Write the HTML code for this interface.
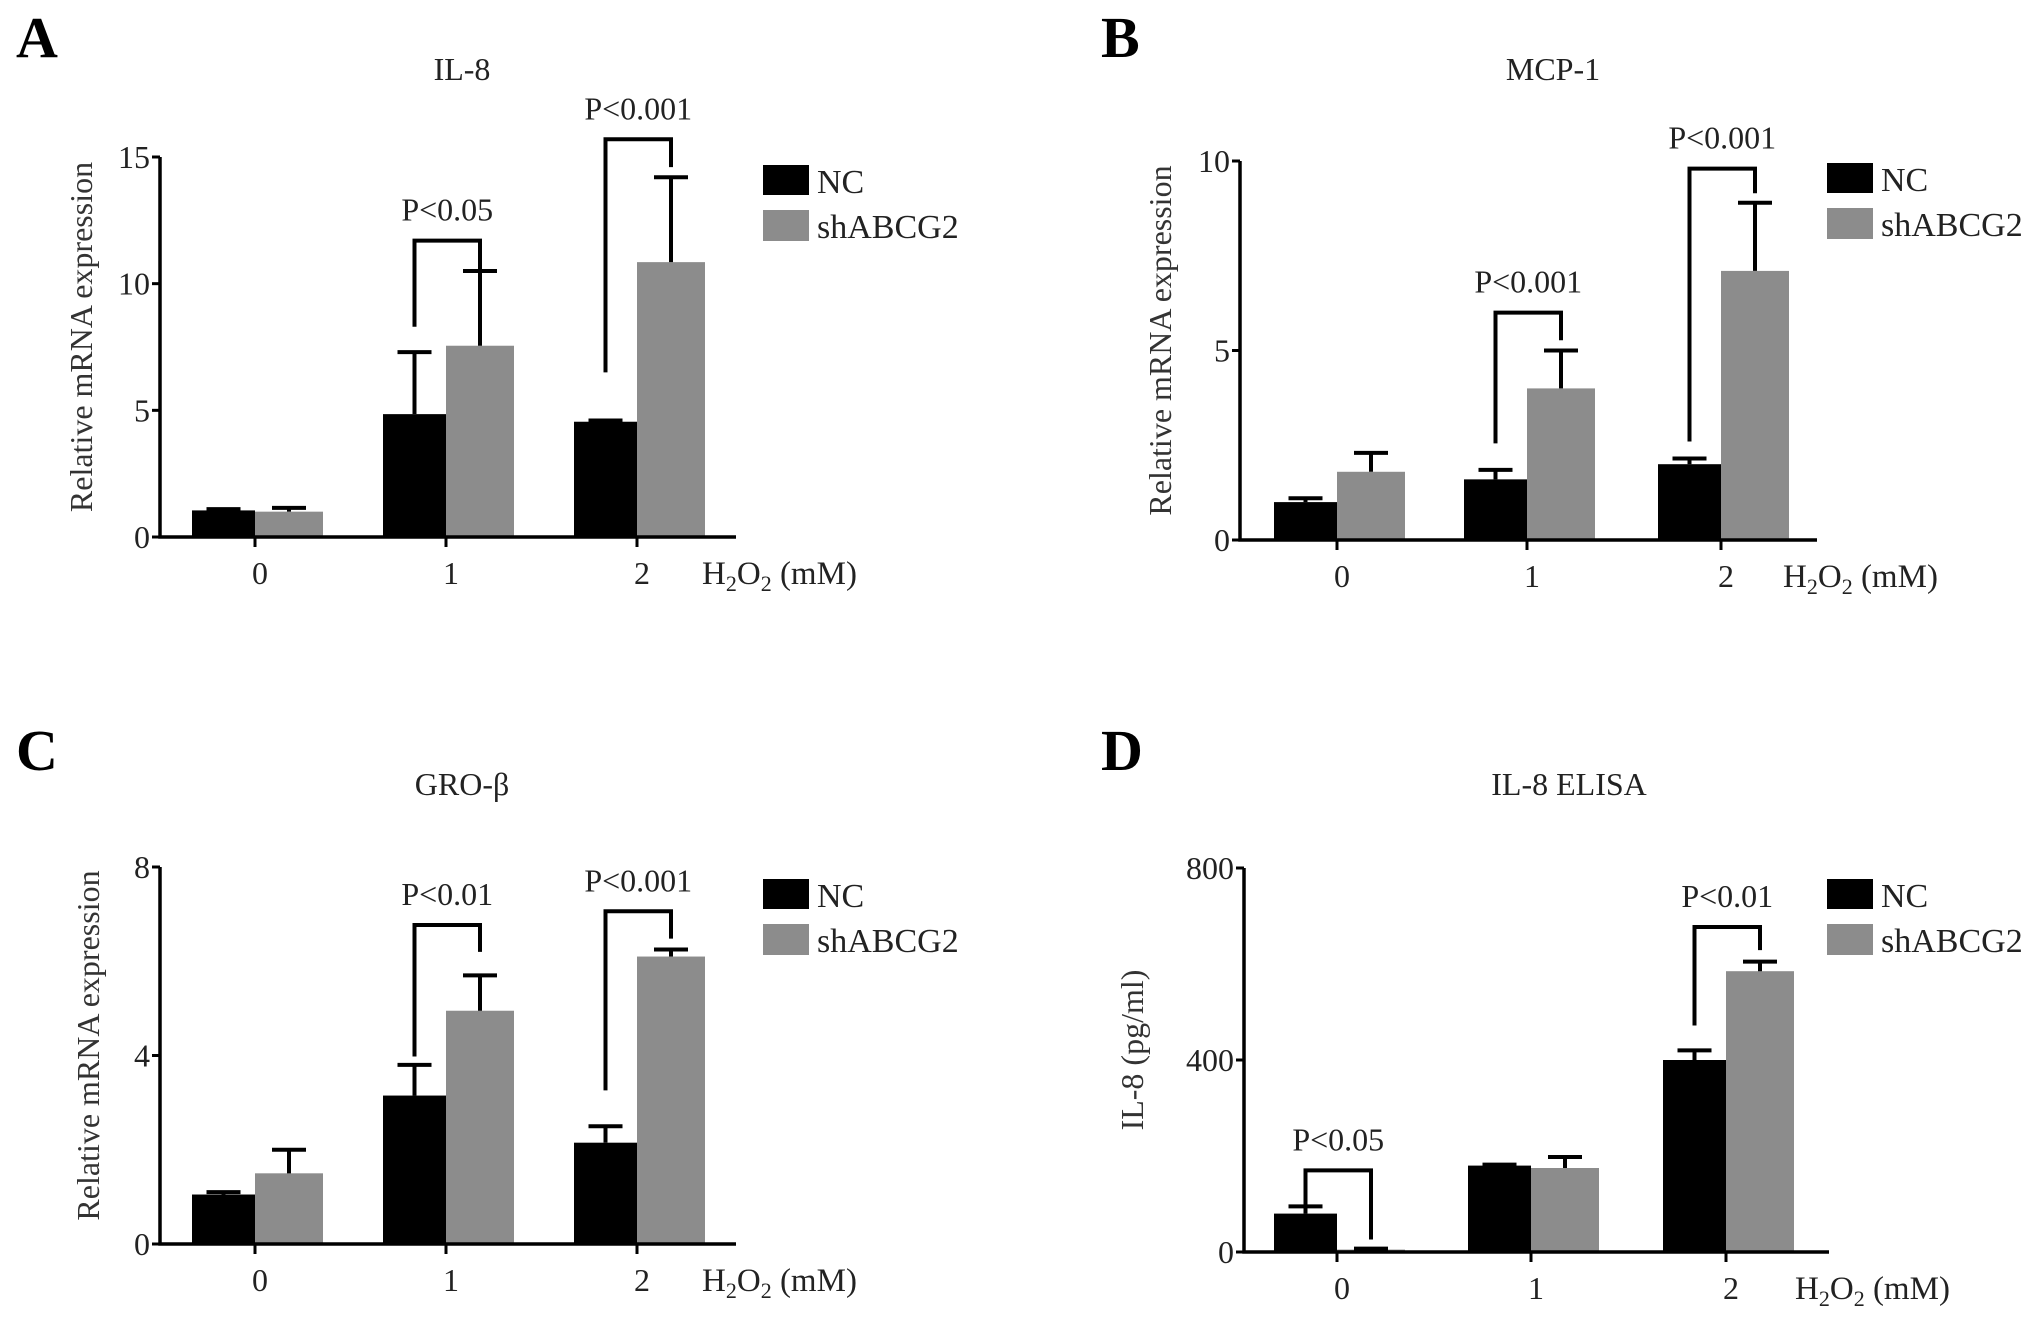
<!DOCTYPE html>
<html><head><meta charset="utf-8"><style>
html,body{margin:0;padding:0;background:#fff;}
svg{display:block;font-family:"Liberation Serif",serif;}
</style></head><body>
<svg id="fig" width="2031" height="1318" viewBox="0 0 2031 1318" xmlns="http://www.w3.org/2000/svg"></svg>
<script>
const categories = ["0","1","2"];
const aNC = [1.05, 4.85, 4.55];
const aSh = [1.0, 7.55, 10.85];
const aNCerr = [1.1, 7.3, 4.6];
const aShErr = [1.15, 10.5, 14.2];
const aTicks = [0, 5, 10, 15];
const bNC = [1.0, 1.6, 2.0];
const bSh = [1.8, 4.0, 7.1];
const bNCerr = [1.1, 1.85, 2.15];
const bShErr = [2.3, 5.0, 8.9];
const bTicks = [0, 5, 10];
const cNC = [1.05, 3.15, 2.15];
const cSh = [1.5, 4.95, 6.1];
const cNCerr = [1.1, 3.8, 2.5];
const cShErr = [2.0, 5.7, 6.25];
const cTicks = [0, 4, 8];
const dNC = [80, 180, 400];
const dSh = [5, 175, 585];
const dNCerr = [95, 182, 420];
const dShErr = [7, 198, 605];
const dTicks = [0, 400, 800];
// significance: [group, leftBottom, top, rightBottom, label]
const aSig = [[1, 8.3, 11.7, 10.5, "P<0.05"], [2, 6.5, 15.7, 14.6, "P<0.001"]];
const bSig = [[1, 2.55, 6.0, 5.27, "P<0.001"], [2, 2.6, 9.8, 9.15, "P<0.001"]];
const cSig = [[1, 3.98, 6.77, 6.2, "P<0.01"], [2, 3.26, 7.06, 6.48, "P<0.001"]];
const dSig = [[0, 96, 170, 26, "P<0.05"], [2, 472, 677, 629, "P<0.01"]];

const NS = "http://www.w3.org/2000/svg";
const svg = document.getElementById("fig");
function mk(tag, attrs, parent, text) {
  const e = document.createElementNS(NS, tag);
  for (const k in attrs) e.setAttribute(k, attrs[k]);
  if (text !== undefined) e.textContent = text;
  (parent || svg).appendChild(e);
  return e;
}

function panel(p) {
  const g = mk("g", {});
  
  
  const ymax = p.ticks[p.ticks.length - 1];
  const Y = v => p.zero - (v / ymax) * (p.zero - p.top);
  const X = i => p.cats[i];
  const bw = 63, bw2 = 68;

  const letter = mk("text", {x: p.lx, y: p.ly, "font-size": 58, "font-weight": "bold"}, g, p.letter);
  
  
  const title = mk("text", {x: p.tx, y: p.ty, "font-size": 32, "text-anchor": "middle", fill: "#222"}, g, p.title);
  
  

  for (let i = 0; i < categories.length; i++) {
    const b1 = mk("rect", {x: X(i) - bw, y: Y(p.nc[i]), width: bw, height: p.zero - Y(p.nc[i]), fill: "#000"}, g);
    
    
    const b2 = mk("rect", {x: X(i), y: Y(p.sh[i]), width: bw2, height: p.zero - Y(p.sh[i]), fill: "#8c8c8c"}, g);
    
    
    const pairs = [[X(i) - bw / 2, p.nc[i], p.ncErr[i]], [X(i) + bw2 / 2, p.sh[i], p.shErr[i]]];
    for (const [cx, v, e] of pairs) {
      const eb = mk("path", {d: `M${cx} ${Y(v)}V${Y(e)}M${cx - 17} ${Y(e)}H${cx + 17}`, stroke: "#000", "stroke-width": 4, fill: "none"}, g);
      
      
    }
  }
  const ax = mk("path", {d: `M${p.axis} ${p.top}V${p.zero}H${p.xEnd}`, stroke: "#000", "stroke-width": 3.5, fill: "none"}, g);
  
  
  for (const t of p.ticks) {
    mk("path", {d: `M${p.axis - 8} ${Y(t)}H${p.axis}`, stroke: "#000", "stroke-width": 3}, g);
    const tl = mk("text", {x: p.axis - 10, y: Y(t) + 11, "font-size": 32, "text-anchor": "end", fill: "#222"}, g, String(t));
    
    
  }
  for (let i = 0; i < categories.length; i++) {
    mk("path", {d: `M${X(i)} ${p.zero}V${p.zero + 10}`, stroke: "#000", "stroke-width": 3}, g);
    const xl = mk("text", {x: X(i) + 5, y: p.zero + 47, "font-size": 32, "text-anchor": "middle", fill: "#222"}, g, categories[i]);
    
    
  }
  const xt = mk("text", {x: p.xEnd - 34, y: p.zero + 47, "font-size": 33, fill: "#222"}, g);
  
  
  mk("tspan", {}, xt, "H");
  mk("tspan", {dy: 7, "font-size": 22}, xt, "2");
  mk("tspan", {dy: -7}, xt, "O");
  mk("tspan", {dy: 7, "font-size": 22}, xt, "2");
  mk("tspan", {dy: -7}, xt, " (mM)");
  const ymid = (p.zero + p.top) / 2 - 10;
  const yt = mk("text", {x: p.yx, y: ymid, "font-size": 32, "text-anchor": "middle", fill: "#333", transform: `rotate(-90 ${p.yx} ${ymid})`}, g, p.ytitle);
  
  

  for (const [gi, lb, top, rb, lab] of p.sig) {
    const lx = X(gi) - bw / 2, rx = X(gi) + bw2 / 2;
    const br = mk("path", {d: `M${lx} ${Y(lb)}V${Y(top)}H${rx}V${Y(rb)}`, stroke: "#000", "stroke-width": 4, fill: "none"}, g);
    
    
    const st = mk("text", {x: (lx + rx) / 2, y: Y(top) - 20, "font-size": 32, "text-anchor": "middle", fill: "#222"}, g, lab);
    
    
  }
  const lg = mk("g", {}, g);
  
  
  const e1 = mk("rect", {x: p.legx, y: p.legy, width: 46, height: 30, fill: "#000"}, lg);
  
  
  mk("text", {x: p.legx + 54, y: p.legy + 28, "font-size": 34, fill: "#222"}, lg, "NC");
  const e2 = mk("rect", {x: p.legx, y: p.legy + 45, width: 46, height: 31, fill: "#8c8c8c"}, lg);
  
  
  mk("text", {x: p.legx + 54, y: p.legy + 73, "font-size": 34, fill: "#222"}, lg, "shABCG2");
}

panel({letter: "A", lx: 16, ly: 57, title: "IL-8", tx: 462, ty: 80, axis: 160, zero: 537, top: 157, xEnd: 736,
  cats: [255, 446, 637], ticks: aTicks, nc: aNC, sh: aSh, ncErr: aNCerr, shErr: aShErr, sig: aSig,
  legx: 763, legy: 165, yx: 92, ytitle: "Relative mRNA expression"});
panel({letter: "B", lx: 1101, ly: 57, title: "MCP-1", tx: 1553, ty: 80, axis: 1240, zero: 540, top: 161, xEnd: 1817,
  cats: [1337, 1527, 1721], ticks: bTicks, nc: bNC, sh: bSh, ncErr: bNCerr, shErr: bShErr, sig: bSig,
  legx: 1827, legy: 163, yx: 1171, ytitle: "Relative mRNA expression"});
panel({letter: "C", lx: 16, ly: 770, title: "GRO-β", tx: 462, ty: 795, axis: 160, zero: 1244, top: 867, xEnd: 736,
  cats: [255, 446, 637], ticks: cTicks, nc: cNC, sh: cSh, ncErr: cNCerr, shErr: cShErr, sig: cSig,
  legx: 763, legy: 879, yx: 99, ytitle: "Relative mRNA expression"});
panel({letter: "D", lx: 1101, ly: 770, title: "IL-8 ELISA", tx: 1569, ty: 795, axis: 1244, zero: 1252, top: 868, xEnd: 1829,
  cats: [1337, 1531, 1726], ticks: dTicks, nc: dNC, sh: dSh, ncErr: dNCerr, shErr: dShErr, sig: dSig,
  legx: 1827, legy: 879, yx: 1143, ytitle: "IL-8 (pg/ml)"});
</script>
</body></html>
